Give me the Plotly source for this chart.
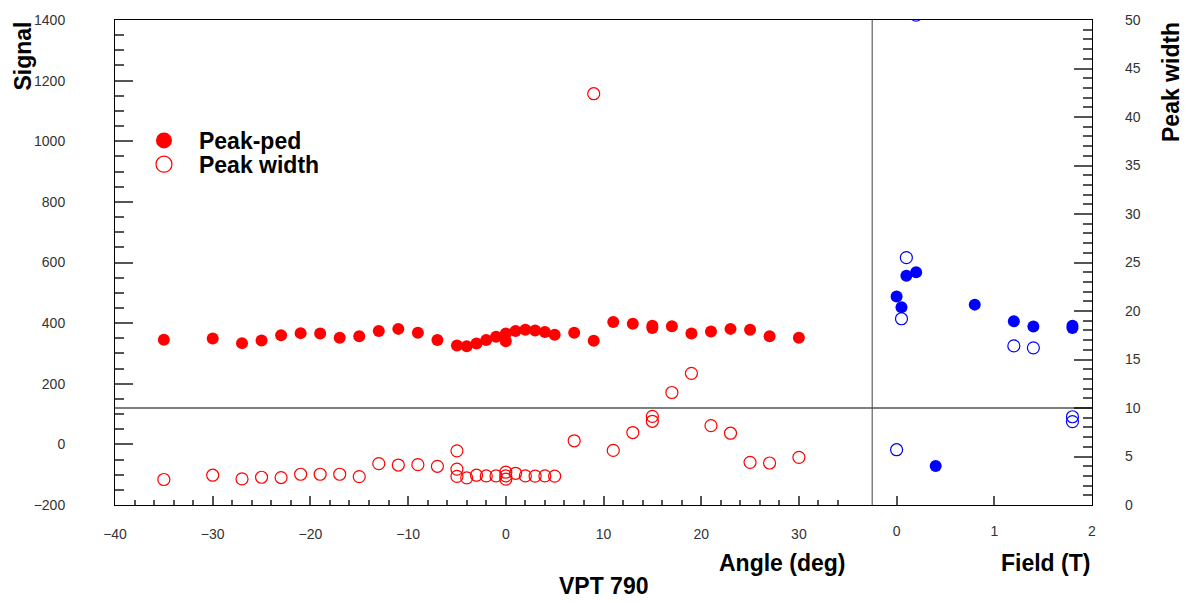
import plotly.graph_objects as go

# ---- angle scan (VPT 790) ----
angle_ped = [-35, -30, -27, -25, -23, -21, -19, -17, -15, -13, -11, -9, -7, -5, -4, -3, -2, -1,
             0, 0, 1, 2, 3, 4, 5, 7, 9, 11, 13, 15, 15, 17, 19, 21, 23, 25, 27, 30]
peak_ped_angle = [345, 349, 334, 343, 360, 367, 366, 352, 357, 374, 381, 368, 344, 326, 324, 333, 344, 355,
                  366, 340, 374, 378, 376, 371, 362, 368, 342, 404, 398, 384, 391, 390, 366, 372, 381, 378, 357, 352]

angle_width = [-35, -30, -27, -25, -23, -21, -19, -17, -15, -13, -11, -9, -7, -5, -5, -5, -4, -3, -2, -1,
               0, 0, 0, 1, 2, 3, 4, 5, 7, 9, 11, 13, 15, 15, 17, 19, 21, 23, 25, 27, 30]
peak_width_angle = [2.63, 3.07, 2.69, 2.86, 2.83, 3.17, 3.17, 3.17, 2.93, 4.26, 4.12, 4.16, 3.99, 5.58, 3.70, 2.95,
                    2.80, 3.07, 3.00, 3.00, 3.38, 3.00, 2.66, 3.27, 3.00, 2.97, 3.00, 2.97, 6.62, 42.4, 5.63,
                    7.47, 9.14, 8.63, 11.6, 13.57, 8.18, 7.40, 4.40, 4.33, 4.91]

# ---- field scan ----
field_ped = [0, 0.05, 0.1, 0.2, 0.4, 0.8, 1.2, 1.4, 1.8, 1.8]
peak_ped_field = [488, 452, 556, 568, -71, 461, 406, 389, 384, 391]

field_width = [0, 0.05, 0.1, 0.2, 1.2, 1.4, 1.8, 1.8]
peak_width_field = [5.7, 19.2, 25.5, 50.5, 16.4, 16.2, 9.1, 8.6]

# ---- axes / reference lines ----
angle_range = [-40, 60]
field_range = [-8, 2]
signal_range = [-200, 1400]
width_range = [0, 50]
angle_major = [-40, -30, -20, -10, 0, 10, 20, 30]
angle_minor = [a for a in range(-38, 35, 2) if a % 10 != 0]
field_major = [0, 1, 2]
width_cut = 10
field_split = -0.25

RED = "#ff0000"
BLUE = "#0000ff"
TICKFONT = dict(family="Liberation Sans", size=14, color="#333333")
BOLD = dict(family="Liberation Sans", size=23, color="#000000", weight="bold")

fig = go.Figure()

fig.add_trace(go.Scatter(x=angle_ped, y=peak_ped_angle, mode="markers", xaxis="x", yaxis="y",
                         marker=dict(symbol="circle", size=12, color=RED), showlegend=False))
fig.add_trace(go.Scatter(x=angle_width, y=peak_width_angle, mode="markers", xaxis="x", yaxis="y2",
                         marker=dict(symbol="circle-open", size=12, color=RED, line=dict(width=1.2, color=RED)),
                         showlegend=False))
fig.add_trace(go.Scatter(x=field_ped, y=peak_ped_field, mode="markers", xaxis="x2", yaxis="y",
                         marker=dict(symbol="circle", size=12, color=BLUE), showlegend=False))
fig.add_trace(go.Scatter(x=field_width, y=peak_width_field, mode="markers", xaxis="x2", yaxis="y2",
                         marker=dict(symbol="circle-open", size=12, color=BLUE, line=dict(width=1.2, color=BLUE)),
                         showlegend=False))

# legend entries
fig.add_trace(go.Scatter(x=[None], y=[None], mode="markers", name="Peak-ped", legend="legend",
                         marker=dict(symbol="circle", size=17, color=RED)))
fig.add_trace(go.Scatter(x=[None], y=[None], mode="markers", name="Peak width", legend="legend2",
                         marker=dict(symbol="circle-open", size=17, color=RED, line=dict(width=1.2, color=RED))))

fig.update_layout(
    width=1188, height=602,
    margin=dict(l=115, r=96, t=16, b=97),
    paper_bgcolor="white", plot_bgcolor="white",
    xaxis=dict(range=angle_range, tickmode="array", tickvals=angle_major, ticks="inside", ticklen=9,
               tickcolor="#555555", tickwidth=1.5,
               minor=dict(tickmode="array", tickvals=angle_minor, ticks="inside", ticklen=5, tickcolor="#555555"),
               showgrid=False, zeroline=False, showline=True, mirror=True, linecolor="#000000", linewidth=1,
               tickfont=TICKFONT, ticklabelstandoff=16),
    xaxis2=dict(range=field_range, overlaying="x", side="bottom", anchor="y", tickmode="array",
                tickvals=field_major, ticks="inside", ticklen=9, tickcolor="#555555", tickwidth=1.5,
                showgrid=False, zeroline=False, showline=False, tickfont=TICKFONT, ticklabelstandoff=16),
    yaxis=dict(range=signal_range, dtick=200, ticks="inside", ticklen=18, tickcolor="#555555", tickwidth=1.5,
               minor=dict(dtick=50, ticks="inside", ticklen=9, tickcolor="#555555"),
               showgrid=False, zeroline=False, showline=True, mirror=True, linecolor="#000000", linewidth=1,
               tickfont=TICKFONT, ticklabelstandoff=46),
    yaxis2=dict(range=width_range, dtick=5, overlaying="y", side="right", anchor="x", ticks="inside",
                ticklen=18, tickcolor="#555555", tickwidth=1.5,
                minor=dict(dtick=1, ticks="inside", ticklen=9, tickcolor="#555555"),
                showgrid=False, zeroline=False, showline=False, tickfont=TICKFONT, ticklabelstandoff=32),
    legend=dict(x=0.0143, y=0.796, xanchor="left", yanchor="top", bgcolor="rgba(0,0,0,0)",
                font=BOLD, itemwidth=60),
    legend2=dict(x=0.0143, y=0.747, xanchor="left", yanchor="top", bgcolor="rgba(0,0,0,0)",
                 font=BOLD, itemwidth=60),
    shapes=[
        dict(type="line", xref="paper", x0=0, x1=1, yref="y2", y0=width_cut, y1=width_cut,
             line=dict(color="#000000", width=1.2)),
        dict(type="line", xref="x2", x0=field_split, x1=field_split, yref="paper", y0=0, y1=1,
             line=dict(color="#444444", width=1)),
    ],
    annotations=[
        dict(text="Signal", textangle=-90, xref="paper", yref="paper", x=(22 - 115) / 977, y=1.0,
             xanchor="center", yanchor="top", showarrow=False, font=BOLD),
        dict(text="Peak width", textangle=-90, xref="paper", yref="paper", x=(1171 - 115) / 977, y=1.0,
             xanchor="center", yanchor="top", showarrow=False, font=BOLD),
        dict(text="Angle (deg)", xref="paper", yref="paper", x=(848 - 115) / 977, y=-(563 - 505) / 489,
             xanchor="right", yanchor="middle", showarrow=False, font=BOLD),
        dict(text="Field (T)", xref="paper", yref="paper", x=1.0, y=-(563 - 505) / 489,
             xanchor="right", yanchor="middle", showarrow=False, font=BOLD),
        dict(text="VPT 790", xref="paper", yref="paper", x=(604 - 115) / 977, y=-(587 - 505) / 489,
             xanchor="center", yanchor="middle", showarrow=False, font=BOLD),
    ],
)

fig.write_html("out.html")
